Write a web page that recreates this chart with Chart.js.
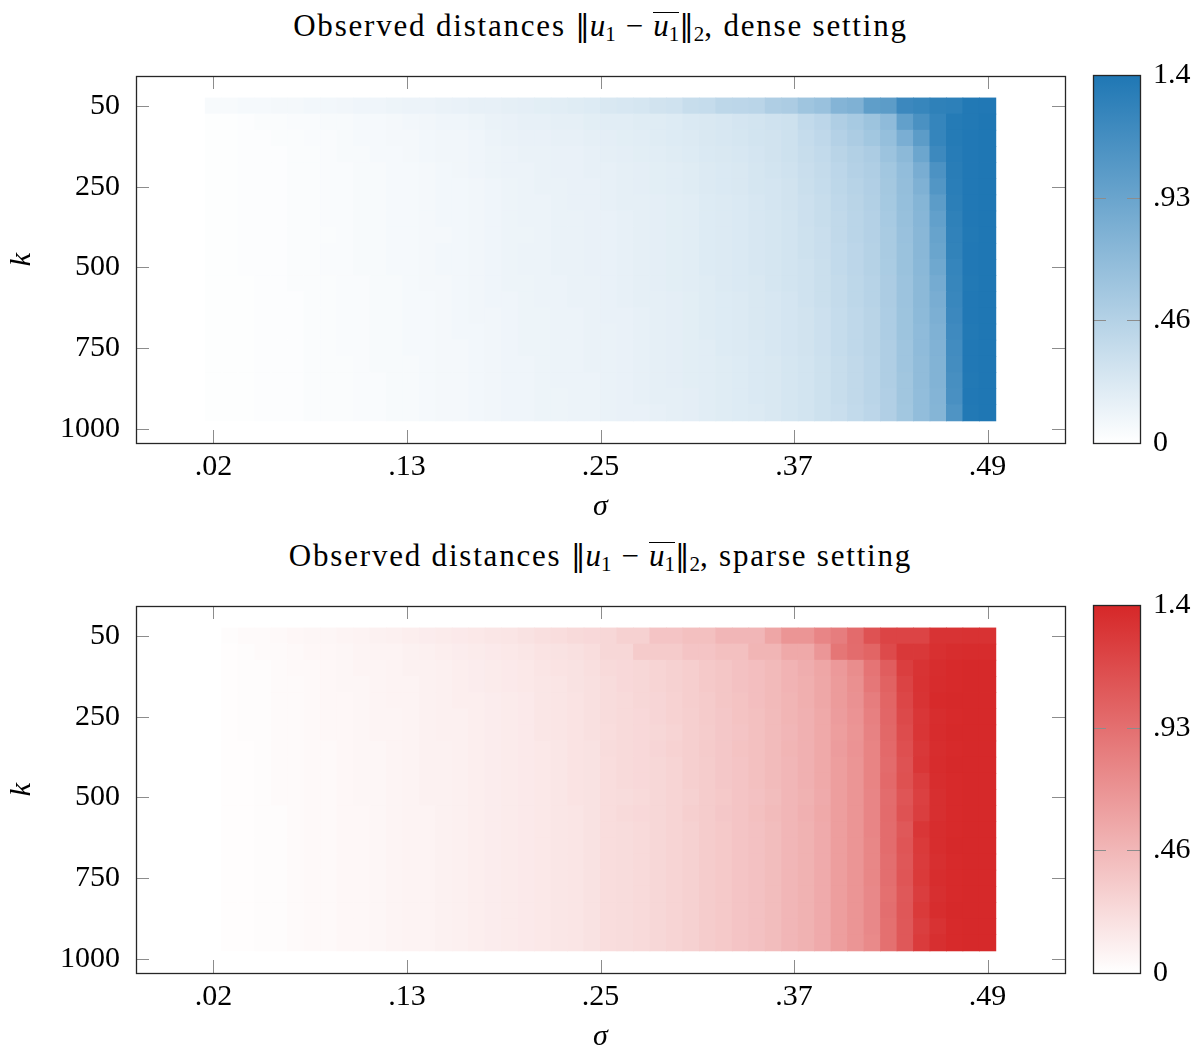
<!DOCTYPE html>
<html><head><meta charset="utf-8">
<script src="https://cdn.jsdelivr.net/npm/chart.js@4/dist/chart.umd.min.js"></script>
<style>
html,body{margin:0;padding:0;background:#fff;}
body{width:1198px;height:1049px;position:relative;overflow:hidden;font-family:'Liberation Serif',serif;color:#000;}
.title{position:absolute;left:136px;width:929px;text-align:center;font-size:31px;line-height:36px;white-space:nowrap;letter-spacing:1.8px;}
.title sub{font-size:21px;vertical-align:-5px;line-height:0;letter-spacing:0;}
.title i{letter-spacing:0;}
.nrm{font-family:'DejaVu Serif',serif;font-weight:normal;font-size:29px;letter-spacing:0;}
.op{margin:0 10px;letter-spacing:0;}
.ov{display:inline-block;border-top:1.5px solid #000;line-height:26px;padding-top:0;letter-spacing:0;}
canvas{position:absolute;}
</style></head><body>
<div class="title" style="top:8px">Observed distances <span class="nrm">‖</span><i>u</i><sub>1</sub><span class="op">−</span><span class="ov"><i>u</i><sub>1</sub></span><span class="nrm">‖</span><sub>2</sub>, dense setting</div>
<div class="title" style="top:538px">Observed distances <span class="nrm">‖</span><i>u</i><sub>1</sub><span class="op">−</span><span class="ov"><i>u</i><sub>1</sub></span><span class="nrm">‖</span><sub>2</sub>, sparse setting</div>
<canvas id="hTop" width="1080" height="485" style="left:0;top:60px"></canvas>
<canvas id="cTop" width="118" height="450" style="left:1080px;top:30px"></canvas>
<canvas id="hBot" width="1080" height="485" style="left:0;top:590px"></canvas>
<canvas id="cBot" width="118" height="450" style="left:1080px;top:560px"></canvas>
<script>
const sigmaValues = [.02,.03,.04,.05,.06,.07,.08,.09,.10,.11,.12,.13,.14,.15,.16,.17,.18,.19,.20,.21,.22,.23,.24,.25,.26,.27,.28,.29,.30,.31,.32,.33,.34,.35,.36,.37,.38,.39,.40,.41,.42,.43,.44,.45,.46,.47,.48,.49];
const kValues = [50,100,150,200,250,300,350,400,450,500,550,600,650,700,750,800,850,900,950,1000];
const xTickLabels = ['.02','.13','.25','.37','.49'];
const yTickLabels = ['50','250','500','750','1000'];
const cbTickLabels = ['0','.46','.93','1.4'];
const cbMax = 1.4;

// dense setting: one row per k, one value per sigma
const dense_k50   = [.05,.05,.06,.06,.07,.07,.08,.08,.09,.10,.10,.11,.12,.12,.13,.14,.15,.15,.16,.17,.18,.19,.20,.21,.24,.25,.26,.29,.30,.35,.36,.41,.42,.43,.50,.52,.60,.64,.77,.80,1.00,1.02,1.22,1.25,1.30,1.31,1.38,1.39];
const dense_k100  = [.01,.01,.02,.03,.03,.04,.04,.05,.05,.06,.06,.07,.08,.09,.10,.10,.11,.13,.14,.15,.15,.16,.16,.18,.19,.19,.20,.20,.21,.23,.24,.25,.27,.28,.30,.31,.38,.42,.50,.55,.61,.70,.98,1.13,1.26,1.36,1.38,1.40];
const dense_k150  = [.01,.01,.02,.02,.03,.03,.04,.04,.05,.06,.06,.07,.07,.08,.09,.09,.10,.12,.13,.14,.14,.15,.15,.16,.17,.18,.19,.20,.21,.22,.24,.25,.26,.28,.29,.31,.36,.40,.47,.52,.58,.66,.83,1.02,1.26,1.36,1.39,1.40];
const dense_k200  = [.01,.01,.02,.02,.02,.03,.03,.04,.05,.05,.06,.06,.07,.08,.09,.09,.10,.11,.12,.13,.13,.14,.14,.15,.16,.17,.18,.19,.20,.21,.23,.24,.25,.27,.29,.31,.35,.38,.44,.48,.52,.62,.72,.92,1.21,1.35,1.39,1.40];
const dense_k250  = [.01,.01,.02,.02,.02,.03,.03,.04,.04,.05,.05,.06,.06,.07,.08,.09,.10,.11,.12,.12,.13,.14,.14,.15,.15,.16,.17,.18,.19,.20,.22,.23,.24,.26,.28,.30,.34,.37,.42,.47,.50,.58,.68,.84,1.12,1.34,1.39,1.40];
const dense_k300  = [.01,.01,.02,.02,.02,.03,.03,.04,.04,.05,.05,.06,.06,.07,.08,.08,.09,.10,.11,.12,.13,.13,.14,.14,.15,.16,.17,.18,.19,.20,.22,.23,.24,.26,.27,.29,.33,.36,.41,.45,.49,.57,.67,.80,1.08,1.33,1.39,1.40];
const dense_k350  = [.01,.01,.02,.02,.02,.03,.03,.04,.04,.05,.05,.06,.06,.07,.08,.08,.09,.10,.11,.12,.12,.13,.14,.14,.15,.16,.16,.17,.18,.19,.21,.22,.23,.25,.27,.29,.32,.35,.40,.44,.48,.56,.66,.76,1.02,1.32,1.39,1.40];
const dense_k400  = [.01,.01,.02,.02,.02,.03,.03,.04,.04,.05,.05,.06,.06,.07,.08,.08,.09,.10,.11,.12,.12,.13,.13,.14,.14,.15,.16,.17,.18,.19,.21,.22,.23,.25,.26,.28,.32,.35,.39,.43,.47,.55,.65,.75,.98,1.30,1.39,1.40];
const dense_k450  = [.01,.01,.02,.02,.02,.03,.03,.03,.04,.05,.05,.06,.06,.07,.07,.08,.09,.10,.11,.11,.12,.13,.13,.14,.14,.15,.16,.17,.18,.19,.21,.22,.23,.25,.26,.28,.31,.34,.39,.43,.47,.54,.64,.74,.95,1.29,1.38,1.40];
const dense_k500  = [.01,.01,.02,.02,.02,.03,.03,.04,.04,.05,.05,.06,.06,.07,.08,.08,.09,.10,.11,.12,.12,.13,.13,.14,.14,.15,.16,.17,.18,.19,.21,.22,.23,.25,.26,.28,.31,.34,.38,.42,.46,.54,.63,.74,.93,1.28,1.39,1.40];
const dense_k550  = [.01,.01,.02,.02,.02,.03,.03,.04,.04,.05,.05,.06,.06,.07,.08,.08,.09,.10,.11,.12,.12,.13,.13,.14,.14,.15,.16,.17,.18,.19,.21,.22,.23,.25,.26,.28,.30,.33,.38,.42,.46,.53,.63,.73,.90,1.26,1.39,1.40];
const dense_k600  = [.01,.01,.01,.02,.02,.03,.03,.03,.04,.04,.05,.05,.06,.07,.07,.08,.09,.10,.11,.11,.12,.12,.13,.13,.14,.15,.16,.17,.18,.19,.20,.22,.23,.24,.26,.28,.30,.33,.37,.41,.45,.52,.62,.72,.86,1.25,1.38,1.40];
const dense_k650  = [.01,.01,.01,.02,.02,.02,.03,.03,.04,.04,.05,.05,.06,.06,.07,.08,.09,.10,.10,.11,.12,.12,.13,.13,.14,.15,.16,.16,.17,.18,.20,.21,.22,.24,.25,.27,.30,.33,.37,.41,.45,.52,.62,.72,.84,1.24,1.39,1.40];
const dense_k700  = [.01,.01,.01,.02,.02,.02,.03,.03,.04,.04,.05,.05,.06,.06,.07,.08,.09,.09,.10,.11,.11,.12,.12,.13,.14,.14,.15,.16,.17,.18,.20,.21,.22,.24,.25,.27,.29,.32,.36,.40,.44,.51,.61,.71,.82,1.22,1.39,1.40];
const dense_k750  = [.01,.01,.01,.02,.02,.02,.03,.03,.04,.04,.05,.05,.06,.06,.07,.08,.08,.09,.10,.11,.11,.12,.12,.13,.13,.14,.15,.16,.17,.18,.20,.21,.22,.24,.25,.27,.29,.32,.36,.40,.44,.51,.61,.70,.80,1.20,1.38,1.40];
const dense_k800  = [.01,.01,.01,.02,.02,.02,.03,.03,.04,.04,.05,.05,.06,.06,.07,.07,.08,.09,.10,.11,.11,.12,.12,.13,.13,.14,.15,.16,.17,.18,.19,.21,.22,.23,.25,.27,.29,.32,.36,.40,.44,.50,.60,.70,.79,1.18,1.39,1.40];
const dense_k850  = [.01,.01,.01,.02,.02,.02,.03,.03,.03,.04,.05,.05,.05,.06,.07,.07,.08,.09,.10,.10,.11,.12,.12,.13,.13,.14,.15,.16,.17,.18,.19,.20,.21,.23,.24,.26,.28,.31,.35,.39,.43,.50,.60,.69,.78,1.17,1.39,1.40];
const dense_k900  = [.01,.01,.01,.02,.02,.02,.03,.03,.03,.04,.04,.05,.05,.06,.07,.07,.08,.09,.10,.10,.11,.12,.12,.12,.13,.14,.15,.16,.17,.18,.19,.20,.21,.23,.24,.26,.28,.31,.35,.39,.43,.50,.59,.69,.78,1.15,1.38,1.40];
const dense_k950  = [.01,.01,.01,.02,.02,.02,.03,.03,.03,.04,.04,.05,.05,.06,.07,.07,.08,.09,.10,.10,.11,.11,.12,.12,.13,.14,.15,.16,.16,.17,.19,.20,.21,.23,.24,.26,.28,.31,.35,.39,.43,.49,.59,.68,.77,1.14,1.39,1.40];
const dense_k1000 = [.01,.01,.01,.02,.02,.02,.03,.03,.03,.04,.04,.05,.05,.06,.07,.07,.08,.09,.10,.10,.11,.11,.12,.12,.13,.14,.14,.15,.16,.17,.19,.20,.21,.22,.24,.26,.28,.31,.34,.38,.42,.49,.58,.68,.76,1.10,1.38,1.40];

// sparse setting
const sparse_k50   = [.00,.02,.03,.03,.04,.05,.06,.06,.07,.08,.09,.10,.11,.12,.13,.14,.15,.16,.17,.19,.21,.22,.24,.25,.26,.30,.30,.38,.38,.41,.41,.47,.47,.47,.58,.69,.69,.79,.84,.96,1.12,1.21,1.21,1.21,1.32,1.32,1.33,1.33];
const sparse_k100  = [.00,.01,.02,.03,.03,.04,.05,.05,.06,.07,.08,.08,.09,.10,.11,.12,.13,.14,.15,.16,.18,.19,.20,.22,.26,.26,.34,.34,.34,.38,.38,.41,.41,.48,.48,.56,.56,.68,.89,.95,1.00,1.17,1.29,1.29,1.34,1.36,1.37,1.37];
const sparse_k150  = [.00,.01,.02,.02,.03,.04,.04,.05,.06,.07,.07,.08,.09,.09,.10,.11,.12,.13,.14,.15,.17,.18,.19,.21,.24,.25,.26,.28,.30,.32,.35,.37,.40,.42,.45,.49,.53,.58,.66,.74,.90,1.05,1.25,1.32,1.36,1.38,1.39,1.39];
const sparse_k200  = [.00,.01,.02,.02,.03,.03,.04,.05,.06,.06,.07,.08,.08,.09,.10,.11,.12,.13,.14,.15,.16,.17,.19,.20,.23,.25,.26,.28,.30,.32,.35,.37,.40,.42,.45,.49,.52,.57,.65,.72,.88,1.02,1.22,1.33,1.37,1.38,1.39,1.39];
const sparse_k250  = [.00,.01,.02,.02,.03,.03,.04,.05,.05,.06,.07,.08,.08,.09,.10,.11,.11,.12,.13,.14,.16,.17,.18,.20,.23,.24,.26,.27,.29,.32,.34,.37,.39,.42,.45,.48,.52,.57,.65,.71,.84,1.00,1.20,1.32,1.38,1.39,1.39,1.39];
const sparse_k300  = [.00,.01,.02,.02,.03,.03,.04,.05,.05,.06,.07,.07,.08,.09,.10,.10,.11,.12,.13,.14,.16,.17,.18,.20,.23,.24,.25,.27,.29,.31,.34,.36,.39,.41,.44,.48,.51,.56,.64,.70,.82,.99,1.18,1.30,1.36,1.38,1.39,1.39];
const sparse_k350  = [.00,.01,.02,.02,.03,.03,.04,.05,.05,.06,.07,.07,.08,.09,.10,.10,.11,.12,.13,.14,.16,.17,.18,.20,.22,.24,.25,.26,.28,.31,.33,.36,.38,.41,.44,.47,.51,.56,.63,.69,.81,.98,1.16,1.31,1.37,1.39,1.39,1.39];
const sparse_k400  = [.00,.01,.01,.02,.03,.03,.04,.04,.05,.06,.06,.07,.08,.09,.09,.10,.11,.12,.13,.14,.15,.16,.18,.19,.23,.24,.25,.27,.29,.31,.34,.36,.39,.41,.44,.48,.51,.56,.64,.70,.80,.97,1.14,1.29,1.36,1.38,1.39,1.39];
const sparse_k450  = [.00,.01,.01,.02,.03,.03,.04,.04,.05,.06,.06,.07,.08,.09,.09,.10,.11,.12,.13,.14,.15,.16,.18,.19,.22,.24,.25,.26,.28,.31,.33,.36,.38,.41,.44,.47,.51,.56,.63,.69,.80,.96,1.12,1.30,1.37,1.39,1.39,1.39];
const sparse_k500  = [.00,.01,.01,.02,.03,.03,.04,.04,.05,.06,.06,.07,.08,.09,.09,.10,.11,.12,.13,.14,.15,.16,.18,.19,.22,.24,.25,.26,.28,.31,.33,.36,.38,.41,.44,.47,.51,.56,.63,.69,.80,.97,1.13,1.26,1.36,1.38,1.39,1.39];
const sparse_k550  = [.00,.01,.01,.02,.03,.03,.04,.04,.05,.06,.06,.07,.08,.09,.09,.10,.11,.12,.13,.14,.15,.16,.18,.19,.22,.23,.24,.26,.28,.30,.33,.35,.38,.40,.43,.47,.50,.55,.63,.69,.79,.95,1.10,1.24,1.35,1.38,1.39,1.39];
const sparse_k600  = [.00,.01,.01,.02,.02,.03,.04,.04,.05,.05,.06,.07,.08,.08,.09,.10,.11,.12,.13,.14,.15,.16,.17,.19,.22,.24,.25,.26,.28,.31,.33,.36,.38,.41,.44,.47,.51,.56,.63,.69,.79,.96,1.12,1.25,1.35,1.38,1.39,1.39];
const sparse_k650  = [.00,.01,.01,.02,.02,.03,.04,.04,.05,.05,.06,.07,.08,.08,.09,.10,.11,.12,.13,.14,.15,.16,.17,.19,.22,.23,.24,.26,.28,.30,.33,.35,.38,.40,.43,.47,.50,.55,.63,.69,.79,.95,1.08,1.30,1.36,1.38,1.39,1.39];
const sparse_k700  = [.00,.01,.01,.02,.02,.03,.04,.04,.05,.05,.06,.07,.08,.08,.09,.10,.11,.12,.13,.14,.15,.16,.17,.19,.22,.23,.24,.26,.28,.30,.33,.35,.38,.40,.43,.47,.50,.55,.63,.69,.78,.95,1.10,1.28,1.36,1.39,1.39,1.39];
const sparse_k750  = [.00,.01,.01,.02,.02,.03,.04,.04,.05,.05,.06,.07,.08,.08,.09,.10,.11,.12,.13,.14,.15,.16,.17,.19,.22,.23,.24,.26,.28,.30,.33,.35,.38,.40,.43,.47,.50,.55,.63,.69,.78,.94,1.09,1.27,1.35,1.38,1.39,1.39];
const sparse_k800  = [.00,.01,.01,.02,.02,.03,.04,.04,.05,.05,.06,.07,.08,.08,.09,.10,.11,.12,.13,.14,.15,.16,.17,.19,.22,.23,.24,.26,.28,.30,.33,.35,.38,.40,.43,.47,.50,.55,.63,.69,.78,.94,1.10,1.28,1.36,1.38,1.39,1.39];
const sparse_k850  = [.00,.01,.01,.02,.02,.03,.04,.04,.05,.05,.06,.07,.08,.08,.09,.10,.11,.12,.13,.14,.15,.16,.17,.19,.22,.23,.24,.26,.28,.30,.33,.35,.38,.40,.43,.47,.50,.55,.63,.69,.77,.93,1.08,1.26,1.35,1.38,1.39,1.39];
const sparse_k900  = [.00,.01,.01,.02,.02,.03,.04,.04,.05,.05,.06,.07,.08,.08,.09,.10,.11,.12,.13,.14,.15,.16,.17,.19,.22,.23,.24,.26,.28,.30,.33,.35,.38,.40,.43,.47,.50,.55,.63,.69,.77,.94,1.09,1.28,1.36,1.39,1.39,1.39];
const sparse_k950  = [.00,.01,.01,.02,.02,.03,.04,.04,.05,.05,.06,.07,.08,.08,.09,.10,.11,.12,.13,.14,.15,.16,.17,.19,.22,.23,.24,.26,.28,.30,.33,.35,.38,.40,.43,.47,.50,.55,.63,.69,.77,.93,1.08,1.25,1.33,1.38,1.39,1.39];
const sparse_k1000 = [.00,.01,.01,.02,.02,.03,.04,.04,.05,.05,.06,.07,.08,.08,.09,.10,.11,.12,.13,.14,.15,.16,.17,.19,.22,.23,.24,.26,.28,.30,.33,.35,.38,.40,.43,.47,.50,.55,.63,.69,.76,.93,1.08,1.27,1.35,1.38,1.39,1.39];

const denseRows = [dense_k50,dense_k100,dense_k150,dense_k200,dense_k250,dense_k300,dense_k350,dense_k400,dense_k450,dense_k500,dense_k550,dense_k600,dense_k650,dense_k700,dense_k750,dense_k800,dense_k850,dense_k900,dense_k950,dense_k1000];
const sparseRows = [sparse_k50,sparse_k100,sparse_k150,sparse_k200,sparse_k250,sparse_k300,sparse_k350,sparse_k400,sparse_k450,sparse_k500,sparse_k550,sparse_k600,sparse_k650,sparse_k700,sparse_k750,sparse_k800,sparse_k850,sparse_k900,sparse_k950,sparse_k1000];

const DENSE_RGB = [31,119,180];
const SPARSE_RGB = [214,39,40];
const FONT = "'Liberation Serif', serif";

Chart.defaults.color = '#000';
Chart.defaults.font.family = FONT;
Chart.defaults.font.size = 30;

function colorFor(v, rgb) {
  const t = Math.max(0, Math.min(1, v / cbMax));
  const c = rgb.map(ch => Math.round(255 + (ch - 255) * t));
  return `rgb(${c[0]},${c[1]},${c[2]})`;
}

function drawLine(ctx, x1, y1, x2, y2) { ctx.beginPath(); ctx.moveTo(x1, y1); ctx.lineTo(x2, y2); ctx.stroke(); }

const framePlugin = {
  id: 'frame',
  afterDatasetsDraw(chart, args, opts) {
    const {ctx, chartArea: a, scales} = chart;
    const L = 13;
    ctx.save();
    ctx.strokeStyle = '#8c8c8c';
    ctx.lineWidth = 1;
    if (opts.xTicks) {
      scales.x.ticks.forEach(t => {
        const px = Math.round(scales.x.getPixelForValue(t.value)) + 0.5;
        drawLine(ctx, px, a.bottom, px, a.bottom - L);
        drawLine(ctx, px, a.top, px, a.top + L);
      });
    }
    const ys = scales.y;
    ys.ticks.forEach(t => {
      const py = Math.round(ys.getPixelForValue(t.value)) + 0.5;
      drawLine(ctx, a.left, py, a.left + L, py);
      drawLine(ctx, a.right, py, a.right - L, py);
    });
    ctx.strokeStyle = '#262626';
    ctx.lineWidth = 1.3;
    ctx.strokeRect(Math.round(a.left) + 0.5, Math.round(a.top) + 0.5, Math.round(a.width), Math.round(a.height));
    ctx.restore();
  }
};

function heatmap(id, rows, rgb) {
  const data = [], colors = [];
  rows.forEach((row, i) => row.forEach((v, j) => {
    data.push({x: sigmaValues[j], y: [i - 0.5, i + 0.5]});
    colors.push(colorFor(v, rgb));
  }));
  const sMin = sigmaValues[0], sMax = sigmaValues[sigmaValues.length - 1], span = sMax - sMin;
  new Chart(document.getElementById(id), {
    type: 'bar',
    data: {datasets: [{data, backgroundColor: colors, borderWidth: 0, barPercentage: 1, categoryPercentage: 1, inflateAmount: 0.4}]},
    options: {
      responsive: false, animation: false, events: [],
      layout: {padding: {left: 0, top: 16, right: 15, bottom: 0}},
      plugins: {legend: {display: false}, tooltip: {enabled: false}, title: {display: false}, frame: {xTicks: true}},
      scales: {
        x: {
          type: 'linear', offset: false, min: sMin - 0.1 * span, max: sMax + 0.1 * span,
          grid: {display: false, drawTicks: false}, border: {display: false},
          afterBuildTicks: s => { s.ticks = xTickLabels.map((_, i) => ({value: sMin + span * i / (xTickLabels.length - 1)})); },
          ticks: {padding: 6, maxRotation: 0, autoSkip: false, callback: (v, i) => xTickLabels[i], font: {size: 30}},
          title: {display: true, text: 'σ', font: {size: 30, style: 'italic'}, padding: {top: 0, bottom: 20}},
          afterFit: s => { s.height = 102; s.paddingLeft = 0; s.paddingRight = 0; s.paddingTop = 0; s.paddingBottom = 0; }
        },
        y: {
          type: 'linear', reverse: true, min: -1.86, max: 20.87,
          grid: {display: false, drawTicks: false}, border: {display: false},
          afterBuildTicks: s => { s.ticks = yTickLabels.map((_, i) => ({value: kValues.length * i / (yTickLabels.length - 1)})); },
          ticks: {padding: 16, autoSkip: false, callback: (v, i) => yTickLabels[i], font: {size: 30}},
          title: {display: true, text: 'k', font: {size: 30, style: 'italic'}, padding: {top: 4, bottom: 0}},
          afterFit: s => { s.width = 136; s.paddingLeft = 0; s.paddingRight = 0; s.paddingTop = 0; s.paddingBottom = 0; }
        }
      }
    },
    plugins: [framePlugin]
  });
}

function colorbar(id, rgb) {
  const full = colorFor(cbMax, rgb);
  new Chart(document.getElementById(id), {
    type: 'bar',
    data: {labels: [''], datasets: [{data: [cbMax], borderWidth: 0, barPercentage: 1, categoryPercentage: 1,
      backgroundColor: (c) => {
        const a = c.chart.chartArea;
        if (!a) return full;
        const g = c.chart.ctx.createLinearGradient(0, a.bottom, 0, a.top);
        g.addColorStop(0, colorFor(0, rgb));
        g.addColorStop(1, full);
        return g;
      }}]},
    options: {
      responsive: false, animation: false, events: [],
      layout: {padding: {left: 13, top: 45, right: 0, bottom: 37}},
      plugins: {legend: {display: false}, tooltip: {enabled: false}, frame: {xTicks: false}},
      scales: {
        x: {display: false, offset: true},
        y: {
          position: 'right', min: 0, max: cbMax,
          grid: {display: false, drawTicks: false}, border: {display: false},
          afterBuildTicks: s => { s.ticks = cbTickLabels.map((_, i) => ({value: cbMax * i / (cbTickLabels.length - 1)})); },
          ticks: {padding: 13, autoSkip: false, callback: (v, i) => cbTickLabels[i], font: {size: 30}},
          afterFit: s => { s.width = 58; s.paddingLeft = 0; s.paddingRight = 0; s.paddingTop = 0; s.paddingBottom = 0; }
        }
      }
    },
    plugins: [framePlugin]
  });
}

heatmap('hTop', denseRows, DENSE_RGB);
heatmap('hBot', sparseRows, SPARSE_RGB);
colorbar('cTop', DENSE_RGB);
colorbar('cBot', SPARSE_RGB);
</script>
</body></html>
